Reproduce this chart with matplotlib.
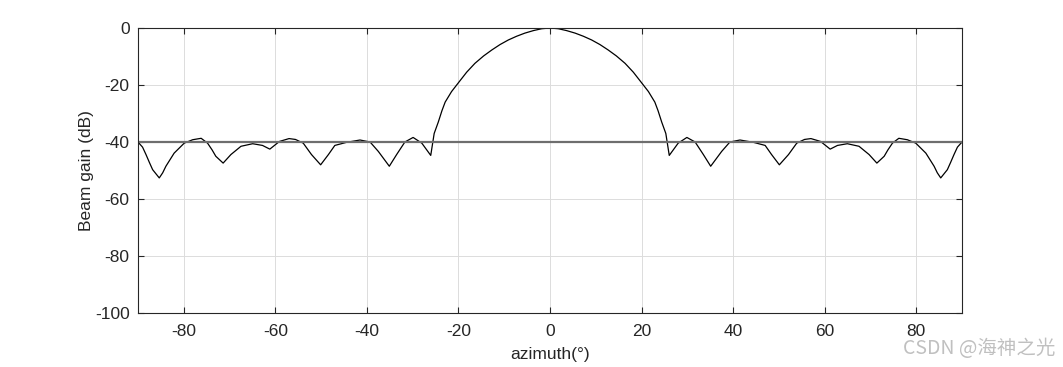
import matplotlib.pyplot as plt

# azimuth (deg) and beam gain (dB)
azimuth = [
    -90.0, -89.0, -88.25, -87.5, -86.8, -85.35, -84.6, -83.9, -82.1, -79.9,
    -78.05, -76.2, -74.8, -73.8, -73.0, -71.4, -69.7, -67.5, -64.95, -62.8,
    -61.2, -59.1, -57.0, -55.6, -53.9, -52.1, -50.1, -48.4, -47.0, -44.4,
    -41.5, -39.3, -37.5, -35.1, -33.5, -31.7, -29.9, -28.0, -26.05, -25.3,
    -24.4, -23.6, -22.9, -21.5, -20.0, -18.2, -16.4, -14.5, -12.7, -10.9,
    -9.1, -7.3, -5.5, -3.6, -1.8, 0.0,
    1.8, 3.6, 5.5, 7.3, 9.1, 10.9, 12.7, 14.5, 16.4, 18.2,
    20.0, 21.5, 22.9, 23.6, 24.4, 25.3, 26.05, 28.0, 29.9, 31.7,
    33.5, 35.1, 37.5, 39.3, 41.5, 44.4, 47.0, 48.4, 50.1, 52.1,
    53.9, 55.6, 57.0, 59.1, 61.2, 62.8, 64.95, 67.5, 69.7, 71.4,
    73.0, 73.8, 74.8, 76.2, 78.05, 79.9, 82.1, 83.9, 84.6, 85.35,
    86.8, 87.5, 88.25, 89.0, 90.0,
]
gain_db = [
    -40.0, -41.8, -44.4, -47.2, -49.7, -52.6, -50.8, -48.5, -43.9, -40.4,
    -39.2, -38.7, -40.4, -42.8, -45.0, -47.4, -44.4, -41.5, -40.6, -41.2,
    -42.5, -39.8, -38.8, -39.1, -40.4, -44.4, -48.0, -44.4, -41.2, -40.1,
    -39.3, -40.0, -43.3, -48.5, -44.4, -40.0, -38.4, -40.4, -44.7, -37.0,
    -33.0, -29.0, -26.0, -22.3, -19.2, -15.5, -12.4, -9.8, -7.7, -5.8,
    -4.2, -2.9, -1.8, -0.9, -0.25, 0.0,
    -0.25, -0.9, -1.8, -2.9, -4.2, -5.8, -7.7, -9.8, -12.4, -15.5,
    -19.2, -22.3, -26.0, -29.0, -33.0, -37.0, -44.7, -40.4, -38.4, -40.0,
    -44.4, -48.5, -43.3, -40.0, -39.3, -40.1, -41.2, -44.4, -48.0, -44.4,
    -40.4, -39.1, -38.8, -39.8, -42.5, -41.2, -40.6, -41.5, -44.4, -47.4,
    -45.0, -42.8, -40.4, -38.7, -39.2, -40.4, -43.9, -48.5, -50.8, -52.6,
    -49.7, -47.2, -44.4, -41.8, -40.0,
]
sidelobe_level = -40

plt.rcParams['font.family'] = ['Liberation Sans', 'DejaVu Sans']
plt.rcParams['axes.unicode_minus'] = False

fig = plt.figure(figsize=(10.63, 3.67), dpi=100)
ax = fig.add_axes([0.1298, 0.1471, 0.7752, 0.7766])

ax.plot(azimuth, gain_db, color='black', linewidth=0.9)
ax.axhline(sidelobe_level, color='#6e6e6e', linewidth=1.6)

ax.set_xlim(-90, 90)
ax.set_ylim(-100, 0)
ax.set_xticks(range(-80, 81, 20))
ax.set_yticks(range(-100, 1, 20))
ax.grid(True, color='#dcdcdc', linewidth=0.7)
ax.set_axisbelow(True)
ax.tick_params(direction='in', length=4, width=0.8, top=True, right=True,
               labelsize=12.5, colors='#262626')
ax.tick_params(axis='x', pad=8)
ax.tick_params(axis='y', pad=6)
for s in ax.spines.values():
    s.set_linewidth(0.8)
    s.set_color('#262626')

ax.set_xlabel('azimuth(°)', fontsize=12.5, color='#262626', labelpad=6)
ax.set_ylabel('Beam gain (dB)', fontsize=12.5, color='#262626', labelpad=1)

fig.text(0.993, 0.022, 'CSDN @海神之光', ha='right', va='bottom', fontsize=14,
         color='#c0c0c0', family=['Noto Sans CJK SC', 'DejaVu Sans'])

fig.savefig('out.png', dpi=100)
